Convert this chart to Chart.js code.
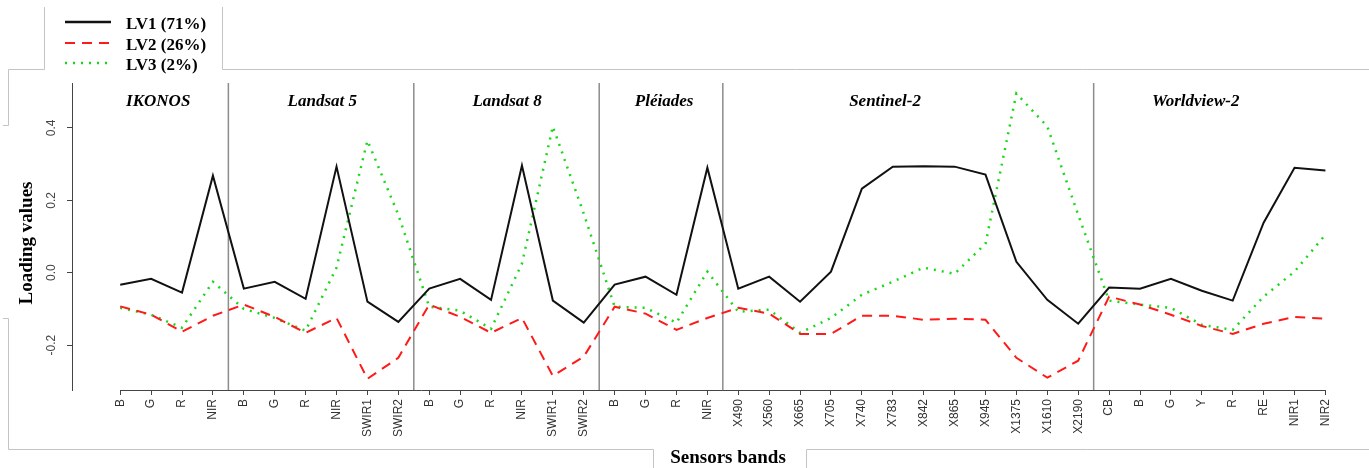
<!DOCTYPE html>
<html>
<head>
<meta charset="utf-8">
<script src="https://cdn.jsdelivr.net/npm/chart.js@4/dist/chart.umd.min.js"></script>
<style>
  html, body { margin: 0; padding: 0; background: #fff; }
  #wrap { width: 1369px; height: 468px; position: relative; }
</style>
</head>
<body>
<div id="wrap"><canvas id="c" width="1369" height="468"></canvas></div>
<script>
// ---------- data ----------
const groups = ["IKONOS", "Landsat 5", "Landsat 8", "Pléiades", "Sentinel-2", "Worldview-2"];
const groupSizes = [4, 6, 6, 4, 12, 8];
const bands = [
  "B","G","R","NIR",
  "B","G","R","NIR","SWIR1","SWIR2",
  "B","G","R","NIR","SWIR1","SWIR2",
  "B","G","R","NIR",
  "X490","X560","X665","X705","X740","X783","X842","X865","X945","X1375","X1610","X2190",
  "CB","B","G","Y","R","RE","NIR1","NIR2"
];
const seriesNames = ["LV1 (71%)", "LV2 (26%)", "LV3 (2%)"];
const lv1 = [
  -0.033,-0.017,-0.055,0.268,
  -0.044,-0.025,-0.072,0.293,-0.080,-0.136,
  -0.044,-0.017,-0.075,0.296,-0.077,-0.138,
  -0.033,-0.011,-0.061,0.290,
  -0.044,-0.011,-0.080,0.003,0.232,0.293,0.294,0.293,0.271,0.030,-0.075,-0.141,
  -0.041,-0.044,-0.017,-0.050,-0.077,0.138,0.290,0.282
];
const lv2 = [
  -0.093,-0.116,-0.163,-0.119,
  -0.088,-0.122,-0.166,-0.125,-0.293,-0.235,
  -0.088,-0.122,-0.166,-0.125,-0.285,-0.232,
  -0.094,-0.113,-0.158,-0.125,
  -0.097,-0.113,-0.169,-0.169,-0.119,-0.119,-0.130,-0.127,-0.130,-0.235,-0.290,-0.243,
  -0.066,-0.088,-0.116,-0.147,-0.169,-0.141,-0.122,-0.127
];
const lv3 = [
  -0.097,-0.116,-0.152,-0.025,
  -0.100,-0.125,-0.160,0.014,0.365,0.160,
  -0.094,-0.105,-0.155,0.025,0.404,0.163,
  -0.094,-0.097,-0.138,0.003,
  -0.108,-0.102,-0.166,-0.125,-0.061,-0.025,0.014,-0.003,0.080,0.495,0.404,0.160,
  -0.077,-0.088,-0.097,-0.144,-0.158,-0.066,0.003,0.105
];
const yTicks = [-0.2, 0.0, 0.2, 0.4];

// ---------- layout / style constants ----------
const groupLabelX = [1.23, 6.54, 12.52, 17.6, 24.75, 34.8]; // label centres in band-index units
const colors = ["#111111", "#ff1a1a", "#19d819"];
const dashes = [[], [10, 7], [2, 6]];
const widths = [2, 2, 2.5];

const toPts = arr => arr.map((v, i) => ({ x: i, y: v }));

const framePlugin = {
  id: 'decor',
  beforeDatasetsDraw(chart) {
    const ctx = chart.ctx, xs = chart.scales.x, ca = chart.chartArea;
    ctx.save();
    // group separators
    ctx.strokeStyle = '#8c8c8c';
    ctx.lineWidth = 1.5;
    let acc = 0;
    for (let g = 0; g < groupSizes.length - 1; g++) {
      acc += groupSizes[g];
      const px = xs.getPixelForValue(acc - 0.5);
      ctx.beginPath(); ctx.moveTo(px, ca.top); ctx.lineTo(px, ca.bottom); ctx.stroke();
    }
    // x axis line from first to last band
    ctx.strokeStyle = '#444';
    ctx.lineWidth = 1;
    ctx.beginPath();
    ctx.moveTo(xs.getPixelForValue(0), ca.bottom + 0.5);
    ctx.lineTo(xs.getPixelForValue(bands.length - 1), ca.bottom + 0.5);
    ctx.stroke();
    // group labels
    ctx.fillStyle = '#000';
    ctx.font = "italic bold 17px 'Liberation Serif', 'DejaVu Serif', serif";
    ctx.textAlign = 'center';
    ctx.textBaseline = 'middle';
    groups.forEach((g, i) => ctx.fillText(g, xs.getPixelForValue(groupLabelX[i]), ca.top + 19));
    ctx.restore();
  },
  afterDraw(chart) {
    const ctx = chart.ctx;
    ctx.save();
    // grey frame remnants
    ctx.strokeStyle = '#c4c4c4';
    ctx.lineWidth = 1;
    const segs = [
      [44.5, 7, 44.5, 69.5], [222.5, 7, 222.5, 69.5],
      [8.5, 69.5, 44.5, 69.5], [222.5, 69.5, 1369, 69.5],
      [8.5, 69.5, 8.5, 125.5], [3, 125.5, 8.5, 125.5],
      [3, 318.5, 8.5, 318.5], [8.5, 318.5, 8.5, 449.5],
      [8.5, 449.5, 653.5, 449.5], [653.5, 449.5, 653.5, 468],
      [806.5, 449.5, 1369, 449.5], [806.5, 449.5, 806.5, 468]
    ];
    segs.forEach(s => { ctx.beginPath(); ctx.moveTo(s[0], s[1]); ctx.lineTo(s[2], s[3]); ctx.stroke(); });
    // legend
    const ds = chart.data.datasets;
    const rows = [22, 43, 63];
    ds.forEach((d, i) => {
      ctx.strokeStyle = d.borderColor;
      ctx.lineWidth = i === 0 ? 2.5 : d.borderWidth;
      ctx.setLineDash(d.borderDash || []);
      ctx.beginPath(); ctx.moveTo(65, rows[i]); ctx.lineTo(111, rows[i]); ctx.stroke();
      ctx.setLineDash([]);
      ctx.fillStyle = '#000';
      ctx.font = "bold 17px 'Liberation Serif', 'DejaVu Serif', serif";
      ctx.textAlign = 'left';
      ctx.textBaseline = 'middle';
      ctx.fillText(d.label, 126, rows[i] + 3);
    });
    // axis titles
    ctx.font = "bold 19px 'Liberation Serif', 'DejaVu Serif', serif";
    ctx.fillStyle = '#000';
    ctx.textAlign = 'center';
    ctx.textBaseline = 'middle';
    ctx.fillText('Sensors bands', 728, 458);
    ctx.translate(27, 243);
    ctx.rotate(-Math.PI / 2);
    ctx.fillText('Loading values', 0, 0);
    ctx.restore();
  }
};

const bgPlugin = {
  id: 'bg',
  beforeDraw(chart) {
    const ctx = chart.ctx;
    ctx.save(); ctx.fillStyle = '#fff'; ctx.fillRect(0, 0, chart.width, chart.height); ctx.restore();
  }
};

new Chart(document.getElementById('c'), {
  type: 'line',
  data: {
    datasets: [lv1, lv2, lv3].map((arr, i) => ({
      label: seriesNames[i],
      data: toPts(arr),
      borderColor: colors[i],
      borderWidth: widths[i],
      borderDash: dashes[i],
      pointRadius: 0,
      tension: 0,
      fill: false
    }))
  },
  options: {
    responsive: false,
    animation: false,
    layout: { padding: { top: 83, left: 0, right: 0, bottom: 0 } },
    plugins: { legend: { display: false }, tooltip: { enabled: false } },
    scales: {
      x: {
        type: 'linear',
        min: -1.56,
        max: 40.41,
        afterBuildTicks: s => { s.ticks = bands.map((_, i) => ({ value: i })); },
        afterFit: s => { s.height = 78; },
        border: { display: false },
        grid: { drawOnChartArea: false, drawTicks: true, tickLength: 5, color: '#444', lineWidth: 1 },
        ticks: {
          autoSkip: false, minRotation: 90, maxRotation: 90, padding: 4,
          color: '#333',
          font: { family: "'Liberation Sans', Arial, sans-serif", size: 12 },
          callback: v => bands[v]
        }
      },
      y: {
        type: 'linear',
        min: -0.324,
        max: 0.524,
        afterBuildTicks: s => { s.ticks = yTicks.map(v => ({ value: v })); },
        afterFit: s => { s.width = 72; },
        border: { display: true, color: '#444', width: 1 },
        grid: { drawOnChartArea: false, drawTicks: true, tickLength: 5, color: '#444' },
        ticks: {
          minRotation: 90, maxRotation: 90, crossAlign: 'center', padding: 5,
          color: '#444',
          font: { family: "'Liberation Sans', Arial, sans-serif", size: 12 },
          callback: v => v.toFixed(1)
        }
      }
    }
  },
  plugins: [bgPlugin, framePlugin]
});
</script>
</body>
</html>
